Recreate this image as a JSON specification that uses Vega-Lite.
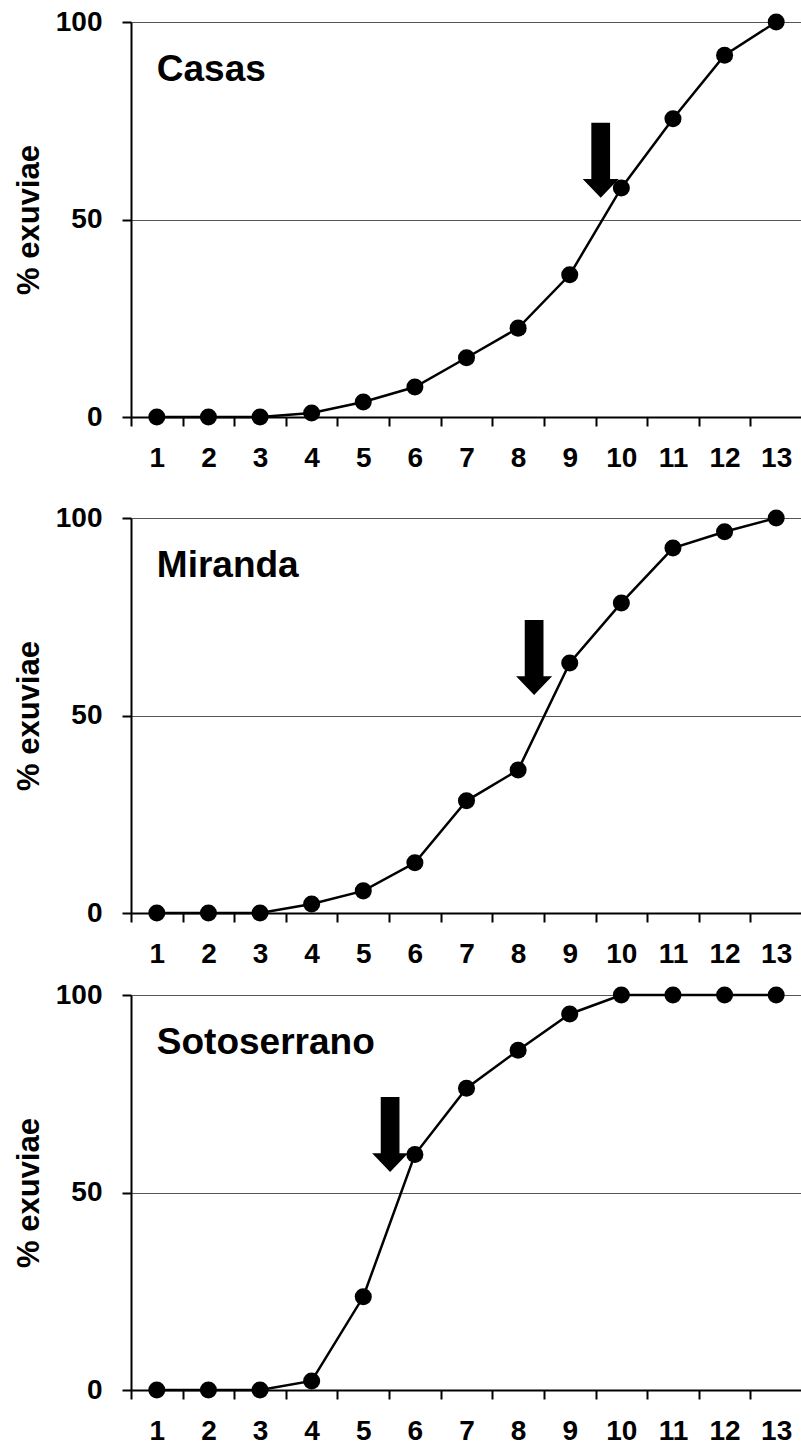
{
  "$schema": "https://vega.github.io/schema/vega-lite/v6.json",
  "padding": {"left": 13, "top": 8, "right": 0, "bottom": 1},
  "background": "white",
  "spacing": 13,
  "datasets": {
    "curves": [
      {"site": "Casas", "week": 1, "pct": 0},
      {"site": "Casas", "week": 2, "pct": 0},
      {"site": "Casas", "week": 3, "pct": 0},
      {"site": "Casas", "week": 4, "pct": 1},
      {"site": "Casas", "week": 5, "pct": 3.8},
      {"site": "Casas", "week": 6, "pct": 7.6},
      {"site": "Casas", "week": 7, "pct": 15},
      {"site": "Casas", "week": 8, "pct": 22.5},
      {"site": "Casas", "week": 9, "pct": 36},
      {"site": "Casas", "week": 10, "pct": 58},
      {"site": "Casas", "week": 11, "pct": 75.5},
      {"site": "Casas", "week": 12, "pct": 91.6},
      {"site": "Casas", "week": 13, "pct": 100},
      {"site": "Miranda", "week": 1, "pct": 0},
      {"site": "Miranda", "week": 2, "pct": 0},
      {"site": "Miranda", "week": 3, "pct": 0},
      {"site": "Miranda", "week": 4, "pct": 2.3},
      {"site": "Miranda", "week": 5, "pct": 5.6},
      {"site": "Miranda", "week": 6, "pct": 12.7},
      {"site": "Miranda", "week": 7, "pct": 28.4},
      {"site": "Miranda", "week": 8, "pct": 36.2},
      {"site": "Miranda", "week": 9, "pct": 63.3},
      {"site": "Miranda", "week": 10, "pct": 78.5},
      {"site": "Miranda", "week": 11, "pct": 92.4},
      {"site": "Miranda", "week": 12, "pct": 96.5},
      {"site": "Miranda", "week": 13, "pct": 100},
      {"site": "Sotoserrano", "week": 1, "pct": 0},
      {"site": "Sotoserrano", "week": 2, "pct": 0},
      {"site": "Sotoserrano", "week": 3, "pct": 0},
      {"site": "Sotoserrano", "week": 4, "pct": 2.3},
      {"site": "Sotoserrano", "week": 5, "pct": 23.6},
      {"site": "Sotoserrano", "week": 6, "pct": 59.6},
      {"site": "Sotoserrano", "week": 7, "pct": 76.4},
      {"site": "Sotoserrano", "week": 8, "pct": 86},
      {"site": "Sotoserrano", "week": 9, "pct": 95.2},
      {"site": "Sotoserrano", "week": 10, "pct": 100},
      {"site": "Sotoserrano", "week": 11, "pct": 100},
      {"site": "Sotoserrano", "week": 12, "pct": 100},
      {"site": "Sotoserrano", "week": 13, "pct": 100}
    ],
    "arrows": [
      {"site": "Casas", "week": 9.6, "pct": 65},
      {"site": "Miranda", "week": 8.31, "pct": 64.7},
      {"site": "Sotoserrano", "week": 5.52, "pct": 64.7}
    ],
    "sites": [
      {"site": "Casas"},
      {"site": "Miranda"},
      {"site": "Sotoserrano"}
    ]
  },
  "config": {
    "font": "Liberation Sans",
    "view": {"stroke": null},
    "axis": {
      "domainColor": "black",
      "domainWidth": 2,
      "tickColor": "black",
      "tickWidth": 2,
      "tickSize": 9,
      "labelColor": "black",
      "labelFont": "Liberation Sans",
      "labelFontSize": 28,
      "labelFontWeight": "bold",
      "titleColor": "black",
      "titleFont": "Liberation Sans",
      "titleFontWeight": "bold"
    },
    "axisX": {
      "labelOffset": 25.8,
      "labelPadding": 18,
      "labelFlush": false,
      "labelOverlap": false,
      "labelBound": false,
      "grid": false
    },
    "axisY": {
      "grid": true,
      "gridColor": "#555555",
      "gridWidth": 1.2,
      "labelPadding": 20,
      "labelFlush": false,
      "labelOverlap": false,
      "titleFontSize": 31,
      "titlePadding": 10
    }
  },
  "vconcat": [
    {
      "width": 671,
      "height": 395,
      "layer": [
        {
          "data": {"name": "curves"},
          "transform": [{"filter": "datum.site === 'Casas'"}],
          "mark": {"type": "line", "color": "black", "strokeWidth": 2.5},
          "encoding": {
            "x": {"field": "week", "type": "quantitative", "scale": {"domain": [0.5, 13.5], "nice": false, "zero": false}, "axis": {"title": " ", "titleFontSize": 10, "titlePadding": 9, "values": [0.5, 1.5, 2.5, 3.5, 4.5, 5.5, 6.5, 7.5, 8.5, 9.5, 10.5, 11.5, 12.5], "labelExpr": "format(datum.value + 0.5, 'd')"}},
            "y": {"field": "pct", "type": "quantitative", "scale": {"domain": [0, 100], "nice": false}, "axis": {"title": "% exuviae", "values": [0, 50, 100]}}
          }
        },
        {
          "data": {"name": "curves"},
          "transform": [{"filter": "datum.site === 'Casas'"}],
          "mark": {"type": "point", "filled": true, "color": "black", "opacity": 1, "size": 290},
          "encoding": {
            "x": {"field": "week", "type": "quantitative"},
            "y": {"field": "pct", "type": "quantitative"}
          }
        },
        {
          "data": {"name": "arrows"},
          "transform": [{"filter": "datum.site === 'Casas'"}],
          "mark": {"type": "point", "filled": true, "color": "black", "opacity": 1, "strokeWidth": 0, "size": 5625, "shape": "M -0.25 -1 L 0.25 -1 L 0.25 0.5 L 0.48 0.5 L 0 1 L -0.48 0.5 L -0.25 0.5 Z"},
          "encoding": {
            "x": {"field": "week", "type": "quantitative"},
            "y": {"field": "pct", "type": "quantitative"}
          }
        },
        {
          "data": {"name": "sites"},
          "transform": [{"filter": "datum.site === 'Casas'"}],
          "mark": {"type": "text", "align": "left", "baseline": "alphabetic", "fontSize": 37, "fontWeight": "bold", "color": "black", "font": "Liberation Sans"},
          "encoding": {
            "x": {"datum": 1.0, "type": "quantitative"},
            "y": {"datum": 85, "type": "quantitative"},
            "text": {"field": "site"}
          }
        }
      ]
    },
    {
      "width": 671,
      "height": 395,
      "layer": [
        {
          "data": {"name": "curves"},
          "transform": [{"filter": "datum.site === 'Miranda'"}],
          "mark": {"type": "line", "color": "black", "strokeWidth": 2.5},
          "encoding": {
            "x": {"field": "week", "type": "quantitative", "scale": {"domain": [0.5, 13.5], "nice": false, "zero": false}, "axis": {"title": null, "values": [0.5, 1.5, 2.5, 3.5, 4.5, 5.5, 6.5, 7.5, 8.5, 9.5, 10.5, 11.5, 12.5], "labelExpr": "format(datum.value + 0.5, 'd')"}},
            "y": {"field": "pct", "type": "quantitative", "scale": {"domain": [0, 100], "nice": false}, "axis": {"title": "% exuviae", "values": [0, 50, 100]}}
          }
        },
        {
          "data": {"name": "curves"},
          "transform": [{"filter": "datum.site === 'Miranda'"}],
          "mark": {"type": "point", "filled": true, "color": "black", "opacity": 1, "size": 290},
          "encoding": {
            "x": {"field": "week", "type": "quantitative"},
            "y": {"field": "pct", "type": "quantitative"}
          }
        },
        {
          "data": {"name": "arrows"},
          "transform": [{"filter": "datum.site === 'Miranda'"}],
          "mark": {"type": "point", "filled": true, "color": "black", "opacity": 1, "strokeWidth": 0, "size": 5625, "shape": "M -0.25 -1 L 0.25 -1 L 0.25 0.5 L 0.48 0.5 L 0 1 L -0.48 0.5 L -0.25 0.5 Z"},
          "encoding": {
            "x": {"field": "week", "type": "quantitative"},
            "y": {"field": "pct", "type": "quantitative"}
          }
        },
        {
          "data": {"name": "sites"},
          "transform": [{"filter": "datum.site === 'Miranda'"}],
          "mark": {"type": "text", "align": "left", "baseline": "alphabetic", "fontSize": 37, "fontWeight": "bold", "color": "black", "font": "Liberation Sans"},
          "encoding": {
            "x": {"datum": 1.0, "type": "quantitative"},
            "y": {"datum": 85, "type": "quantitative"},
            "text": {"field": "site"}
          }
        }
      ]
    },
    {
      "width": 671,
      "height": 395,
      "layer": [
        {
          "data": {"name": "curves"},
          "transform": [{"filter": "datum.site === 'Sotoserrano'"}],
          "mark": {"type": "line", "color": "black", "strokeWidth": 2.5},
          "encoding": {
            "x": {"field": "week", "type": "quantitative", "scale": {"domain": [0.5, 13.5], "nice": false, "zero": false}, "axis": {"title": null, "values": [0.5, 1.5, 2.5, 3.5, 4.5, 5.5, 6.5, 7.5, 8.5, 9.5, 10.5, 11.5, 12.5], "labelExpr": "format(datum.value + 0.5, 'd')"}},
            "y": {"field": "pct", "type": "quantitative", "scale": {"domain": [0, 100], "nice": false}, "axis": {"title": "% exuviae", "values": [0, 50, 100]}}
          }
        },
        {
          "data": {"name": "curves"},
          "transform": [{"filter": "datum.site === 'Sotoserrano'"}],
          "mark": {"type": "point", "filled": true, "color": "black", "opacity": 1, "size": 290},
          "encoding": {
            "x": {"field": "week", "type": "quantitative"},
            "y": {"field": "pct", "type": "quantitative"}
          }
        },
        {
          "data": {"name": "arrows"},
          "transform": [{"filter": "datum.site === 'Sotoserrano'"}],
          "mark": {"type": "point", "filled": true, "color": "black", "opacity": 1, "strokeWidth": 0, "size": 5625, "shape": "M -0.25 -1 L 0.25 -1 L 0.25 0.5 L 0.48 0.5 L 0 1 L -0.48 0.5 L -0.25 0.5 Z"},
          "encoding": {
            "x": {"field": "week", "type": "quantitative"},
            "y": {"field": "pct", "type": "quantitative"}
          }
        },
        {
          "data": {"name": "sites"},
          "transform": [{"filter": "datum.site === 'Sotoserrano'"}],
          "mark": {"type": "text", "align": "left", "baseline": "alphabetic", "fontSize": 37, "fontWeight": "bold", "color": "black", "font": "Liberation Sans"},
          "encoding": {
            "x": {"datum": 1.0, "type": "quantitative"},
            "y": {"datum": 85, "type": "quantitative"},
            "text": {"field": "site"}
          }
        }
      ]
    }
  ]
}
